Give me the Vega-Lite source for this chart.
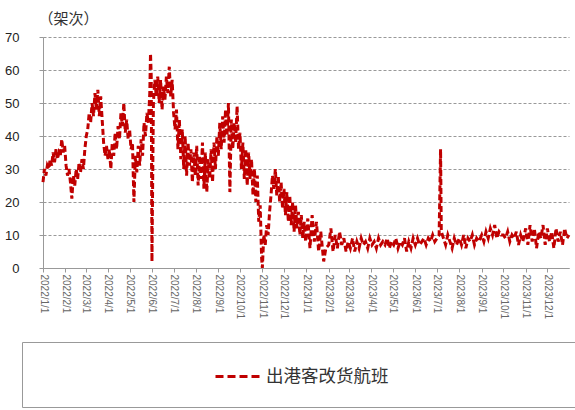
{
  "$schema": "https://vega.github.io/schema/vega-lite/v6.json",
  "autosize": {"type": "none"},
  "padding": {"left": 43, "top": 37, "right": 6, "bottom": 142},
  "width": 526,
  "height": 231,
  "background": "white",
  "config": {"view": {"stroke": null}, "font": "Noto Sans CJK SC"},
  "data": {"values": [
    {"d": "2022/1/1", "v": 26}, {"d": "2022/1/3", "v": 30}, {"d": "2022/1/5", "v": 28}, {"d": "2022/1/7", "v": 31}, {"d": "2022/1/9", "v": 30},
    {"d": "2022/1/11", "v": 33}, {"d": "2022/1/13", "v": 31}, {"d": "2022/1/15", "v": 35}, {"d": "2022/1/17", "v": 32}, {"d": "2022/1/19", "v": 36},
    {"d": "2022/1/21", "v": 33}, {"d": "2022/1/23", "v": 35}, {"d": "2022/1/25", "v": 34}, {"d": "2022/1/27", "v": 39}, {"d": "2022/1/29", "v": 35},
    {"d": "2022/1/31", "v": 37}, {"d": "2022/2/2", "v": 31}, {"d": "2022/2/4", "v": 28}, {"d": "2022/2/6", "v": 30}, {"d": "2022/2/8", "v": 26},
    {"d": "2022/2/10", "v": 21}, {"d": "2022/2/12", "v": 28}, {"d": "2022/2/14", "v": 25}, {"d": "2022/2/16", "v": 30}, {"d": "2022/2/18", "v": 27},
    {"d": "2022/2/20", "v": 32}, {"d": "2022/2/22", "v": 29}, {"d": "2022/2/24", "v": 33}, {"d": "2022/2/26", "v": 30}, {"d": "2022/2/28", "v": 36},
    {"d": "2022/3/2", "v": 40}, {"d": "2022/3/4", "v": 42}, {"d": "2022/3/6", "v": 47}, {"d": "2022/3/8", "v": 44}, {"d": "2022/3/10", "v": 50},
    {"d": "2022/3/12", "v": 46}, {"d": "2022/3/14", "v": 53}, {"d": "2022/3/16", "v": 48}, {"d": "2022/3/18", "v": 54}, {"d": "2022/3/20", "v": 46},
    {"d": "2022/3/22", "v": 52}, {"d": "2022/3/24", "v": 45}, {"d": "2022/3/26", "v": 38}, {"d": "2022/3/28", "v": 34}, {"d": "2022/3/30", "v": 37},
    {"d": "2022/4/1", "v": 33}, {"d": "2022/4/3", "v": 36}, {"d": "2022/4/5", "v": 30}, {"d": "2022/4/7", "v": 38}, {"d": "2022/4/9", "v": 34},
    {"d": "2022/4/11", "v": 41}, {"d": "2022/4/13", "v": 36}, {"d": "2022/4/15", "v": 43}, {"d": "2022/4/17", "v": 39}, {"d": "2022/4/19", "v": 47},
    {"d": "2022/4/21", "v": 43}, {"d": "2022/4/23", "v": 50}, {"d": "2022/4/25", "v": 41}, {"d": "2022/4/27", "v": 45}, {"d": "2022/4/29", "v": 39},
    {"d": "2022/5/1", "v": 42}, {"d": "2022/5/3", "v": 36}, {"d": "2022/5/5", "v": 38}, {"d": "2022/5/7", "v": 20}, {"d": "2022/5/9", "v": 34},
    {"d": "2022/5/11", "v": 29}, {"d": "2022/5/13", "v": 37}, {"d": "2022/5/15", "v": 31}, {"d": "2022/5/17", "v": 39}, {"d": "2022/5/19", "v": 34},
    {"d": "2022/5/21", "v": 44}, {"d": "2022/5/23", "v": 40}, {"d": "2022/5/25", "v": 47}, {"d": "2022/5/27", "v": 44}, {"d": "2022/5/29", "v": 53},
    {"d": "2022/5/30", "v": 65}, {"d": "2022/5/31", "v": 58}, {"d": "2022/6/1", "v": 2}, {"d": "2022/6/3", "v": 50}, {"d": "2022/6/5", "v": 57},
    {"d": "2022/6/7", "v": 52}, {"d": "2022/6/9", "v": 58}, {"d": "2022/6/11", "v": 50}, {"d": "2022/6/13", "v": 57}, {"d": "2022/6/15", "v": 48},
    {"d": "2022/6/17", "v": 55}, {"d": "2022/6/19", "v": 51}, {"d": "2022/6/21", "v": 58}, {"d": "2022/6/23", "v": 53}, {"d": "2022/6/25", "v": 61},
    {"d": "2022/6/27", "v": 52}, {"d": "2022/6/29", "v": 57}, {"d": "2022/7/1", "v": 47}, {"d": "2022/7/3", "v": 42}, {"d": "2022/7/5", "v": 48},
    {"d": "2022/7/7", "v": 36}, {"d": "2022/7/9", "v": 45}, {"d": "2022/7/11", "v": 33}, {"d": "2022/7/13", "v": 42}, {"d": "2022/7/15", "v": 30},
    {"d": "2022/7/17", "v": 40}, {"d": "2022/7/19", "v": 28}, {"d": "2022/7/21", "v": 38}, {"d": "2022/7/23", "v": 31}, {"d": "2022/7/25", "v": 36},
    {"d": "2022/7/27", "v": 26}, {"d": "2022/7/29", "v": 35}, {"d": "2022/7/31", "v": 28}, {"d": "2022/8/2", "v": 37}, {"d": "2022/8/4", "v": 25},
    {"d": "2022/8/6", "v": 34}, {"d": "2022/8/8", "v": 27}, {"d": "2022/8/10", "v": 38}, {"d": "2022/8/12", "v": 24}, {"d": "2022/8/14", "v": 35},
    {"d": "2022/8/16", "v": 23}, {"d": "2022/8/18", "v": 33}, {"d": "2022/8/20", "v": 27}, {"d": "2022/8/22", "v": 36}, {"d": "2022/8/24", "v": 26},
    {"d": "2022/8/26", "v": 38}, {"d": "2022/8/28", "v": 30}, {"d": "2022/8/30", "v": 40}, {"d": "2022/9/1", "v": 34}, {"d": "2022/9/3", "v": 44},
    {"d": "2022/9/5", "v": 36}, {"d": "2022/9/7", "v": 46}, {"d": "2022/9/9", "v": 38}, {"d": "2022/9/11", "v": 48}, {"d": "2022/9/13", "v": 40},
    {"d": "2022/9/15", "v": 50}, {"d": "2022/9/17", "v": 23}, {"d": "2022/9/19", "v": 45}, {"d": "2022/9/21", "v": 36}, {"d": "2022/9/23", "v": 44},
    {"d": "2022/9/25", "v": 38}, {"d": "2022/9/27", "v": 49}, {"d": "2022/9/29", "v": 36}, {"d": "2022/10/1", "v": 41}, {"d": "2022/10/3", "v": 30},
    {"d": "2022/10/5", "v": 38}, {"d": "2022/10/7", "v": 27}, {"d": "2022/10/9", "v": 36}, {"d": "2022/10/11", "v": 25}, {"d": "2022/10/13", "v": 35},
    {"d": "2022/10/15", "v": 27}, {"d": "2022/10/17", "v": 33}, {"d": "2022/10/19", "v": 22}, {"d": "2022/10/21", "v": 30}, {"d": "2022/10/23", "v": 20},
    {"d": "2022/10/25", "v": 28}, {"d": "2022/10/27", "v": 14}, {"d": "2022/10/29", "v": 19}, {"d": "2022/10/31", "v": 3}, {"d": "2022/11/1", "v": 0},
    {"d": "2022/11/3", "v": 10}, {"d": "2022/11/5", "v": 7}, {"d": "2022/11/7", "v": 13}, {"d": "2022/11/9", "v": 10}, {"d": "2022/11/11", "v": 17},
    {"d": "2022/11/13", "v": 22}, {"d": "2022/11/15", "v": 28}, {"d": "2022/11/17", "v": 24}, {"d": "2022/11/19", "v": 30}, {"d": "2022/11/21", "v": 22},
    {"d": "2022/11/23", "v": 28}, {"d": "2022/11/25", "v": 20}, {"d": "2022/11/27", "v": 26}, {"d": "2022/11/29", "v": 18}, {"d": "2022/12/1", "v": 24},
    {"d": "2022/12/3", "v": 16}, {"d": "2022/12/5", "v": 23}, {"d": "2022/12/7", "v": 14}, {"d": "2022/12/9", "v": 22}, {"d": "2022/12/11", "v": 13},
    {"d": "2022/12/13", "v": 20}, {"d": "2022/12/15", "v": 11}, {"d": "2022/12/17", "v": 19}, {"d": "2022/12/19", "v": 12}, {"d": "2022/12/21", "v": 17},
    {"d": "2022/12/23", "v": 10}, {"d": "2022/12/25", "v": 16}, {"d": "2022/12/27", "v": 9}, {"d": "2022/12/29", "v": 14}, {"d": "2022/12/31", "v": 8},
    {"d": "2023/1/3", "v": 15}, {"d": "2023/1/6", "v": 6}, {"d": "2023/1/9", "v": 16}, {"d": "2023/1/12", "v": 8}, {"d": "2023/1/15", "v": 14},
    {"d": "2023/1/18", "v": 5}, {"d": "2023/1/21", "v": 11}, {"d": "2023/1/25", "v": 2}, {"d": "2023/1/28", "v": 6}, {"d": "2023/2/1", "v": 7},
    {"d": "2023/2/4", "v": 12}, {"d": "2023/2/7", "v": 5}, {"d": "2023/2/10", "v": 10}, {"d": "2023/2/13", "v": 6}, {"d": "2023/2/16", "v": 11},
    {"d": "2023/2/19", "v": 7}, {"d": "2023/2/22", "v": 9}, {"d": "2023/2/25", "v": 5}, {"d": "2023/2/28", "v": 8}, {"d": "2023/3/3", "v": 6},
    {"d": "2023/3/6", "v": 9}, {"d": "2023/3/9", "v": 5}, {"d": "2023/3/12", "v": 8}, {"d": "2023/3/15", "v": 6}, {"d": "2023/3/18", "v": 9},
    {"d": "2023/3/21", "v": 7}, {"d": "2023/3/24", "v": 8}, {"d": "2023/3/27", "v": 6}, {"d": "2023/3/30", "v": 9}, {"d": "2023/4/2", "v": 7},
    {"d": "2023/4/5", "v": 8}, {"d": "2023/4/8", "v": 6}, {"d": "2023/4/11", "v": 9}, {"d": "2023/4/14", "v": 7}, {"d": "2023/4/17", "v": 8},
    {"d": "2023/4/20", "v": 7}, {"d": "2023/4/23", "v": 9}, {"d": "2023/4/26", "v": 6}, {"d": "2023/4/29", "v": 8}, {"d": "2023/5/2", "v": 7},
    {"d": "2023/5/5", "v": 9}, {"d": "2023/5/8", "v": 6}, {"d": "2023/5/11", "v": 8}, {"d": "2023/5/14", "v": 7}, {"d": "2023/5/17", "v": 9},
    {"d": "2023/5/20", "v": 5}, {"d": "2023/5/23", "v": 8}, {"d": "2023/5/26", "v": 6}, {"d": "2023/5/29", "v": 9}, {"d": "2023/6/1", "v": 7},
    {"d": "2023/6/4", "v": 9}, {"d": "2023/6/7", "v": 7}, {"d": "2023/6/10", "v": 8}, {"d": "2023/6/13", "v": 9}, {"d": "2023/6/16", "v": 7},
    {"d": "2023/6/19", "v": 9}, {"d": "2023/6/22", "v": 8}, {"d": "2023/6/25", "v": 10}, {"d": "2023/6/28", "v": 8}, {"d": "2023/7/1", "v": 9},
    {"d": "2023/7/4", "v": 10}, {"d": "2023/7/6", "v": 36}, {"d": "2023/7/7", "v": 11}, {"d": "2023/7/10", "v": 9}, {"d": "2023/7/13", "v": 7},
    {"d": "2023/7/16", "v": 10}, {"d": "2023/7/19", "v": 8}, {"d": "2023/7/22", "v": 6}, {"d": "2023/7/25", "v": 9}, {"d": "2023/7/28", "v": 7},
    {"d": "2023/8/1", "v": 9}, {"d": "2023/8/4", "v": 7}, {"d": "2023/8/7", "v": 10}, {"d": "2023/8/10", "v": 6}, {"d": "2023/8/13", "v": 9},
    {"d": "2023/8/16", "v": 8}, {"d": "2023/8/19", "v": 10}, {"d": "2023/8/22", "v": 7}, {"d": "2023/8/25", "v": 9}, {"d": "2023/8/28", "v": 8},
    {"d": "2023/9/1", "v": 10}, {"d": "2023/9/4", "v": 8}, {"d": "2023/9/7", "v": 11}, {"d": "2023/9/10", "v": 9}, {"d": "2023/9/13", "v": 12},
    {"d": "2023/9/16", "v": 10}, {"d": "2023/9/19", "v": 13}, {"d": "2023/9/22", "v": 9}, {"d": "2023/9/25", "v": 11}, {"d": "2023/9/28", "v": 10},
    {"d": "2023/10/1", "v": 10}, {"d": "2023/10/4", "v": 9}, {"d": "2023/10/7", "v": 11}, {"d": "2023/10/10", "v": 8}, {"d": "2023/10/13", "v": 10},
    {"d": "2023/10/16", "v": 9}, {"d": "2023/10/19", "v": 11}, {"d": "2023/10/22", "v": 7}, {"d": "2023/10/25", "v": 10}, {"d": "2023/10/28", "v": 8},
    {"d": "2023/11/1", "v": 12}, {"d": "2023/11/4", "v": 7}, {"d": "2023/11/7", "v": 13}, {"d": "2023/11/10", "v": 8}, {"d": "2023/11/13", "v": 12},
    {"d": "2023/11/16", "v": 6}, {"d": "2023/11/19", "v": 11}, {"d": "2023/11/22", "v": 9}, {"d": "2023/11/25", "v": 13}, {"d": "2023/11/28", "v": 7},
    {"d": "2023/12/1", "v": 12}, {"d": "2023/12/4", "v": 8}, {"d": "2023/12/7", "v": 11}, {"d": "2023/12/10", "v": 6}, {"d": "2023/12/13", "v": 12},
    {"d": "2023/12/16", "v": 8}, {"d": "2023/12/19", "v": 11}, {"d": "2023/12/22", "v": 7}, {"d": "2023/12/25", "v": 12}, {"d": "2023/12/28", "v": 9},
    {"d": "2023/12/31", "v": 10}
  ]},
  "mark": {"type": "line", "strokeWidth": 3, "strokeDash": [6, 3]},
  "encoding": {
    "x": {
      "field": "d",
      "type": "temporal",
      "scale": {"domain": [{"year": 2022, "month": 1, "date": 1}, {"year": 2023, "month": 12, "date": 31}]},
      "axis": {
        "title": null,
        "format": "%Y/%-m/%-d",
        "tickCount": {"interval": "month", "step": 1},
        "labelAngle": 90,
        "labelFont": "Liberation Sans",
        "labelFontSize": 10,
        "labelColor": "#666",
        "labelOverlap": false,
        "labelPadding": 2,
        "grid": false,
        "domainColor": "#999",
        "tickColor": "#999",
        "tickSize": 4
      }
    },
    "y": {
      "field": "v",
      "type": "quantitative",
      "scale": {"domain": [0, 70], "nice": false},
      "axis": {
        "title": "（架次）",
        "titleAngle": 0,
        "titleX": -5,
        "titleY": -19,
        "titleAlign": "left",
        "titleBaseline": "middle",
        "titleFontSize": 15,
        "titleFontWeight": "normal",
        "titleColor": "#333",
        "values": [0, 10, 20, 30, 40, 50, 60, 70],
        "labelFont": "Liberation Sans",
        "labelFontSize": 13,
        "labelColor": "#222",
        "labelPadding": 20,
        "tickSize": 4,
        "tickColor": "#999",
        "domainColor": "#999",
        "gridColor": "#999",
        "gridDash": [3, 2],
        "gridWidth": 1.2
      }
    },
    "color": {
      "datum": "出港客改货航班",
      "scale": {"range": ["#C00000"]},
      "legend": {
        "title": null,
        "orient": "none",
        "legendX": -21,
        "legendY": 305,
        "labelLimit": 1000,
        "labelFontSize": 17.5,
        "labelColor": "#333",
        "labelOffset": 16,
        "symbolType": "M-2,0L2,0M28.4,0",
        "symbolSize": 484,
        "symbolOffset": 181,
        "symbolStrokeWidth": 3,
        "symbolDash": [8, 4],
        "strokeColor": "#999",
        "padding": 22
      }
    }
  }
}
